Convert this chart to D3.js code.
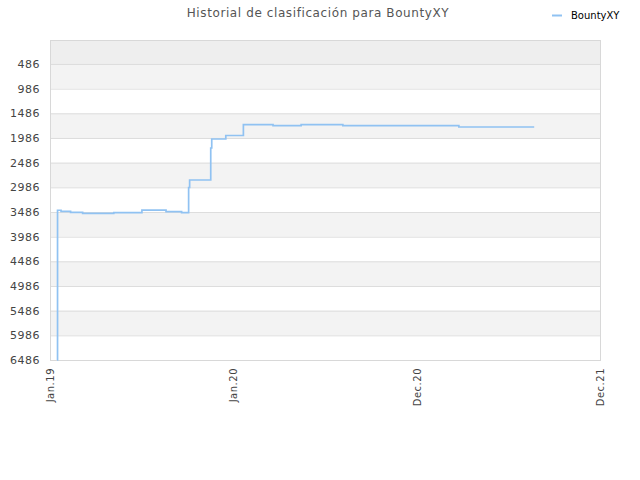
<!DOCTYPE html>
<html>
<head>
<meta charset="UTF-8">
<title>Historial de clasificación</title>
<script src="https://cdn.jsdelivr.net/npm/d3@7"></script>
<style>
  body { margin: 0; background: #fff; }
  text { font-family: "DejaVu Sans", sans-serif; }
</style>
</head>
<body>
<script>
// datos
var player = "BountyXY";
var dates = ["2019-01-15", "2019-01-16", "2019-01-23", "2019-02-11", "2019-03-07",
  "2019-05-08", "2019-07-03", "2019-08-20", "2019-09-20", "2019-10-04", "2019-10-06",
  "2019-11-17", "2019-11-19", "2019-12-17", "2020-01-21", "2020-03-20", "2020-05-15",
  "2020-08-06", "2021-03-25", "2021-08-22"];
var ranks = [6486, 3451, 3473, 3492, 3513,
  3500, 3450, 3480, 3500, 2990, 2838,
  2189, 2007, 1936, 1716, 1737, 1716,
  1737, 1763, 1763];
var yTicks = [486, 986, 1486, 1986, 2486, 2986, 3486, 3986, 4486, 4986, 5486, 5986, 6486];
var xTicks = ["2019-01-01", "2020-01-01", "2020-12-31", "2021-12-31"];
var xLabels = ["Jan.19", "Jan.20", "Dec.20", "Dec.21"];

var width = 640, height = 480,
    margin = {top: 40, right: 40, bottom: 120, left: 50};
var parse = d3.timeParse("%Y-%m-%d");

var data = dates.map(function (d, i) { return {date: parse(d), rank: ranks[i]}; });

var svg = d3.select("body").append("svg")
  .attr("width", width)
  .attr("height", height);

var x = d3.scaleTime()
  .domain([parse("2019-01-01"), parse("2021-12-31")])
  .range([margin.left, width - margin.right]);
var y = d3.scaleLinear()
  .domain([0, 6486])
  .range([margin.top, height - margin.bottom]);

// bandas alternas
var bands = [0].concat(yTicks);
svg.append("g").selectAll("rect")
  .data(bands.slice(0, -1))
  .enter().append("rect")
  .attr("x", margin.left)
  .attr("width", width - margin.left - margin.right)
  .attr("y", function (d) { return y(d); })
  .attr("height", function (d, i) { return y(bands[i + 1]) - y(d); })
  .attr("fill", function (d, i) {
    if (i == 0) return "#eeeeee";
    return i % 2 == 1 ? "#f3f3f3" : "#ffffff";
  });

// rejilla
svg.append("g").selectAll("line")
  .data(yTicks)
  .enter().append("line")
  .attr("x1", margin.left)
  .attr("x2", width - margin.right)
  .attr("y1", function (d) { return y(d) + 0.5; })
  .attr("y2", function (d) { return y(d) + 0.5; })
  .attr("stroke", "#dddddd");

// marco
svg.append("rect")
  .attr("x", margin.left + 0.5)
  .attr("y", margin.top + 0.5)
  .attr("width", width - margin.left - margin.right)
  .attr("height", height - margin.top - margin.bottom)
  .attr("fill", "none")
  .attr("stroke", "#d8d8d8");

// eje y
var yAxis = svg.append("g")
  .attr("transform", "translate(" + margin.left + ",0)")
  .call(d3.axisLeft(y).tickValues(yTicks).tickFormat(d3.format("d")).tickSize(0).tickPadding(10));
yAxis.select(".domain").remove();
yAxis.selectAll("text")
  .attr("fill", "#444")
  .style("font-size", "11px")
  .style("letter-spacing", "0.5px");

// eje x
var xAxis = svg.append("g")
  .attr("transform", "translate(0," + (height - margin.bottom) + ")")
  .call(d3.axisBottom(x)
    .tickValues(xTicks.map(parse))
    .tickFormat(function (d, i) { return xLabels[i]; })
    .tickSize(0));
xAxis.select(".domain").remove();
xAxis.selectAll("text")
  .attr("fill", "#444")
  .style("font-size", "10px")
  .style("letter-spacing", "0.5px")
  .attr("text-anchor", "end")
  .attr("dy", "0.35em")
  .attr("transform", "translate(0,8) rotate(-90)")
  .attr("x", 0)
  .attr("y", 0);

// línea
var line = d3.line()
  .x(function (d) { return x(d.date); })
  .y(function (d) { return y(d.rank); })
  .curve(d3.curveStepAfter);

svg.append("path")
  .datum(data)
  .attr("d", line)
  .attr("fill", "none")
  .attr("stroke", "#90c2f2")
  .attr("stroke-width", 1.7);

// título
svg.append("text")
  .attr("x", 318)
  .attr("y", 17)
  .attr("text-anchor", "middle")
  .attr("fill", "#555")
  .style("font-size", "12px")
  .style("letter-spacing", "0.6px")
  .text("Historial de clasificación para " + player);

// leyenda
svg.append("line")
  .attr("x1", 552).attr("x2", 562)
  .attr("y1", 15.5).attr("y2", 15.5)
  .attr("stroke", "#90c2f2")
  .attr("stroke-width", 2);
svg.append("text")
  .attr("x", 571)
  .attr("y", 19)
  .attr("fill", "#000")
  .style("font-size", "10px")
  .text(player);
</script>
</body>
</html>
